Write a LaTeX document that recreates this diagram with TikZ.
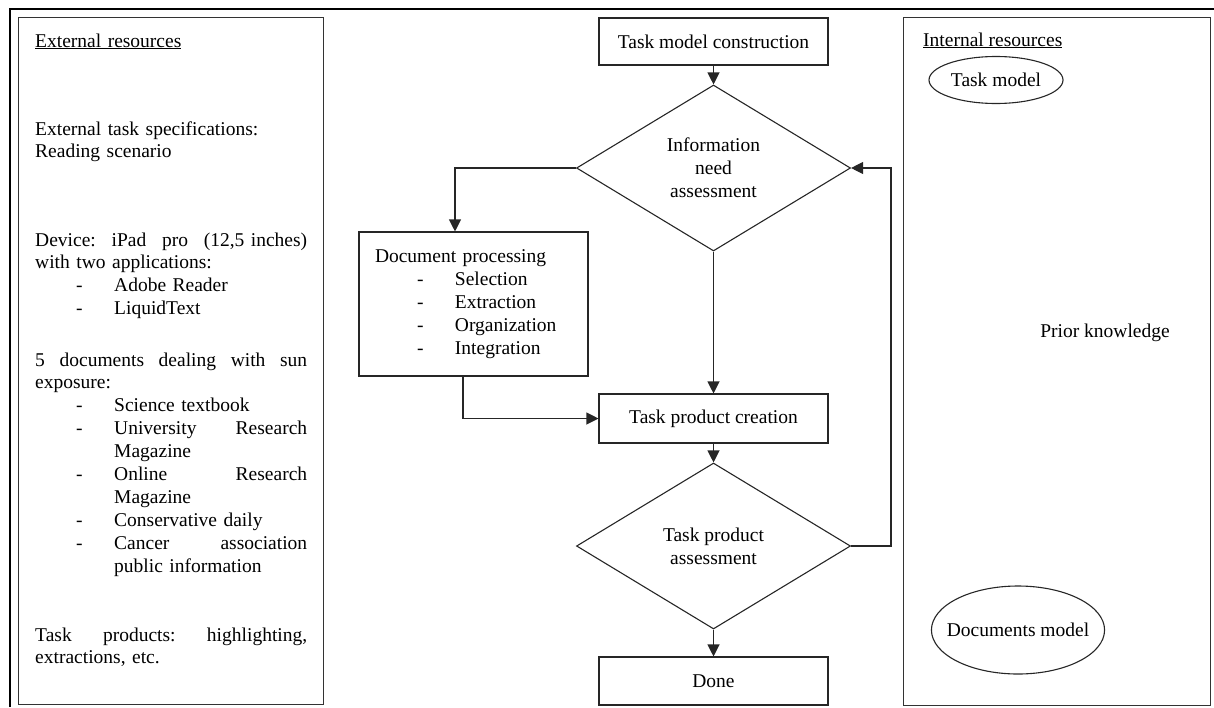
\documentclass[tikz,border=0pt]{standalone}
\usepackage{fontspec}
\setmainfont{Liberation Serif}
\usetikzlibrary{shapes.geometric,arrows.meta}
\begin{document}
\begin{tikzpicture}[x=1pt,y=-1pt,
  font=\fontsize{19.5}{22.9}\selectfont,
  panel/.style={draw=black!80,line width=1.4pt,inner sep=0pt,anchor=north west},
  box/.style={draw=black!85,line width=1.1pt,minimum width=229pt,inner sep=0pt,align=center},
  dec/.style={draw=black!85,line width=1.1pt,diamond,aspect=1.645,minimum width=274pt,minimum height=166pt,inner sep=0pt,align=center},
  conn/.style={draw=black!85,line width=1.1pt},
  arr/.style={conn,-{Triangle[length=12pt,width=12pt]}},
  txt/.style={inner sep=0pt,anchor=base west,text width=272pt,align=left},
  lbl/.style={inner sep=0pt},
  oval/.style={draw=black!85,line width=1.1pt,ellipse,inner ysep=0pt}
]
\newcommand{\itm}{\hspace*{41pt}\makebox[38pt][l]{-}}
\newcommand{\ditm}{\hspace*{42pt}\makebox[38pt][l]{-}}
\useasboundingbox (0,0) rectangle (1214,707);
% outer frame
\draw[line width=1.5pt] (10,707) -- (10,9) -- (1214,9);
% panels
\node[panel,minimum width=305pt,minimum height=687pt] (ext) at (18,17) {};
\node[panel,minimum width=307pt,minimum height=688pt] (int) at (903,17) {};
% left panel texts
\node[txt] (exthead) at (35,47) {\underline{External resources}};
\node[txt] (spec) at (35,135) {External task specifications:\\Reading scenario};
\node[txt] (device) at (35,246) {Device:\hfill iPad\hfill pro\hfill (12,5 inches)\\
with two applications:\\
\itm Adobe Reader\\
\itm LiquidText};
\node[txt] (docs) at (35,366) {5\hfill documents\hfill dealing\hfill with\hfill sun\\
exposure:\\
\itm Science textbook\\
\itm University\hfill Research\\
\hspace*{79pt}Magazine\\
\itm Online\hfill Research\\
\hspace*{79pt}Magazine\\
\itm Conservative daily\\
\itm Cancer\hfill association\\
\hspace*{79pt}public information};
\node[txt] (prod) at (35,641) {Task\hfill products:\hfill highlighting,\\extractions, etc.};
% flowchart
\node[box,minimum height=47pt] (tmc) at (713.5,41.5) {Task model construction};
\node[dec] (ina) at (713.5,168) {Information\\need\\assessment};
\node[box,minimum height=144pt,text width=197pt,align=left] (doc) at (473.5,304) {Document processing\\
\ditm Selection\\
\ditm Extraction\\
\ditm Organization\\
\ditm Integration};
\node[box,minimum height=49pt] (tpc) at (713.5,418.5) {Task product creation};
\node[dec] (tpa) at (713.5,546) {Task product\\assessment};
\node[box,minimum height=48pt] (done) at (713.5,681) {Done};
\coordinate (dpx) at (455,0);
\coordinate (dox) at (463,0);
\coordinate (loopx) at (891,0);
\draw[arr] (tmc.south) -- (ina.north);
\draw[arr] (ina.west) -| (doc.north -| dpx);
\draw[arr] (ina.south) -- (tpc.north);
\draw[arr] (doc.south -| dox) |- (tpc.west);
\draw[arr] (tpc.south) -- (tpa.north);
\draw[arr] (tpa.south) -- (done.north);
\draw[arr] (tpa.east) -- (tpa.east -| loopx) -- (ina.east -| loopx) -- (ina.east);
% right panel
\node[lbl,anchor=base west] (inthead) at (923,46) {\underline{Internal resources}};
\node[oval,inner xsep=-2pt,minimum width=134pt,minimum height=47pt] (tm) at (996,80) {Task model};
\node[lbl] (pk) at (1105,333) {Prior knowledge};
\node[oval,inner xsep=-10pt,minimum width=172pt,minimum height=88pt] (dm) at (1018,630) {Documents model};
\end{tikzpicture}
\end{document}
